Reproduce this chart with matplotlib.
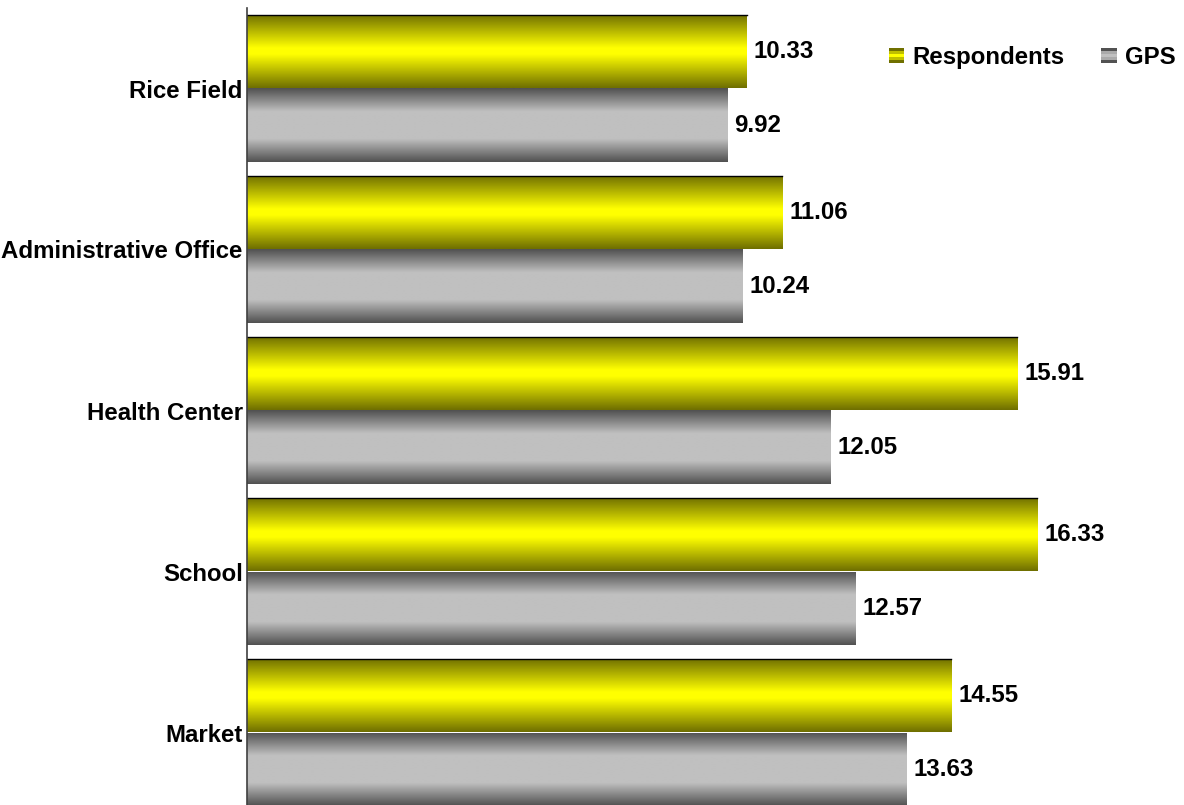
import numpy as np
import matplotlib.pyplot as plt
from matplotlib.legend_handler import HandlerBase
from matplotlib.patches import Rectangle

categories = ["Rice Field", "Administrative Office", "Health Center", "School", "Market"]
respondents = [10.33, 11.06, 15.91, 16.33, 14.55]
gps = [9.92, 10.24, 12.05, 12.57, 13.63]

plt.rcParams['font.family'] = ['Liberation Sans', 'DejaVu Sans']
plt.rcParams['font.weight'] = 'bold'

YELLOW_EDGE = np.array([112, 112, 0]) / 255
YELLOW_MID = np.array([255, 255, 0]) / 255
GRAY_EDGE = np.array([82, 82, 82]) / 255
GRAY_MID = np.array([192, 192, 192]) / 255


def profile(edge, mid, gain, n=64):
    t = np.linspace(0, 1, n)
    w = 1 - np.abs(2 * t - 1)
    w = np.clip(w * gain, 0, 1)
    return edge[None, :] * (1 - w[:, None]) + mid[None, :] * w[:, None]


def shade_bars(ax, bars, edge, mid, gain):
    img = profile(edge, mid, gain)[:, None, :]
    for b in bars:
        x0, y0 = b.get_x(), b.get_y()
        x1, y1 = x0 + b.get_width(), y0 + b.get_height()
        im = ax.imshow(img, extent=(x0, x1, y1, y0), aspect='auto',
                       interpolation='bilinear', zorder=2)
        im.set_clip_path(b)


class GradientHandler(HandlerBase):
    def __init__(self, edge, mid, gain):
        super().__init__()
        self.edge, self.mid, self.gain = edge, mid, gain

    def create_artists(self, legend, orig_handle, xdescent, ydescent,
                       width, height, fontsize, trans):
        cols = profile(self.edge, self.mid, self.gain, n=5)
        arts = []
        for i, c in enumerate(cols):
            r = Rectangle((-xdescent, -ydescent + height * (4 - i) / 5), width, height / 5,
                          facecolor=c, edgecolor='none', transform=trans)
            arts.append(r)
        return arts


fig = plt.figure(figsize=(11.84, 8.05), dpi=100)
px_per_unit = 48.4
left_px = 247
ax = fig.add_axes([left_px / 1184, (805 - 813) / 805, (1184 - left_px) / 1184, 805 / 805])

y = np.arange(len(categories))
h = 0.4565
b1 = ax.barh(y - h / 2, respondents, height=h, color='none', zorder=2)
b2 = ax.barh(y + h / 2, gps, height=h, color='none', zorder=2)
shade_bars(ax, b1, YELLOW_EDGE, YELLOW_MID, 1.1)
shade_bars(ax, b2, GRAY_EDGE, GRAY_MID, 1.6)
for b in b1:
    ax.plot([b.get_x(), b.get_x() + b.get_width()], [b.get_y(), b.get_y()],
            color='black', lw=1.0, zorder=3)

for bars, vals in ((b1, respondents), (b2, gps)):
    for b, v in zip(bars, vals):
        ax.annotate(f"{v:.2f}", (b.get_width(), b.get_y() + b.get_height() / 2),
                    xytext=(7, 0), textcoords='offset pixels', va='center', ha='left',
                    fontsize=17.3, fontweight='bold', zorder=4)

ax.set_xlim(0, (1184 - left_px) / px_per_unit)
ax.set_ylim(len(categories) - 0.5, -0.5)
ax.set_yticks(y)
ax.set_yticklabels(categories, fontsize=17.3, fontweight='bold')
ax.tick_params(axis='y', length=0, pad=3)
ax.set_xticks([])
for s in ('top', 'right', 'bottom'):
    ax.spines[s].set_visible(False)
ax.spines['left'].set_color('#404040')
ax.spines['left'].set_linewidth(1.2)
ax.spines['left'].set_zorder(5)

h1 = Rectangle((0, 0), 1, 1)
h2 = Rectangle((0, 0), 1, 1)
fig.legend([h1, h2], ["Respondents", "GPS"], loc='center left',
           bbox_to_anchor=(889 / 1184, 1 - 57.5 / 805), ncol=2, frameon=False,
           handlelength=0.63, handleheight=0.63, handletextpad=0.33,
           columnspacing=1.55, borderpad=0, borderaxespad=0,
           handler_map={h1: GradientHandler(YELLOW_EDGE, YELLOW_MID, 1.1),
                        h2: GradientHandler(GRAY_EDGE, GRAY_MID, 1.6)},
           prop={'weight': 'bold', 'size': 17.3})

fig.savefig("out.png", dpi=100)
